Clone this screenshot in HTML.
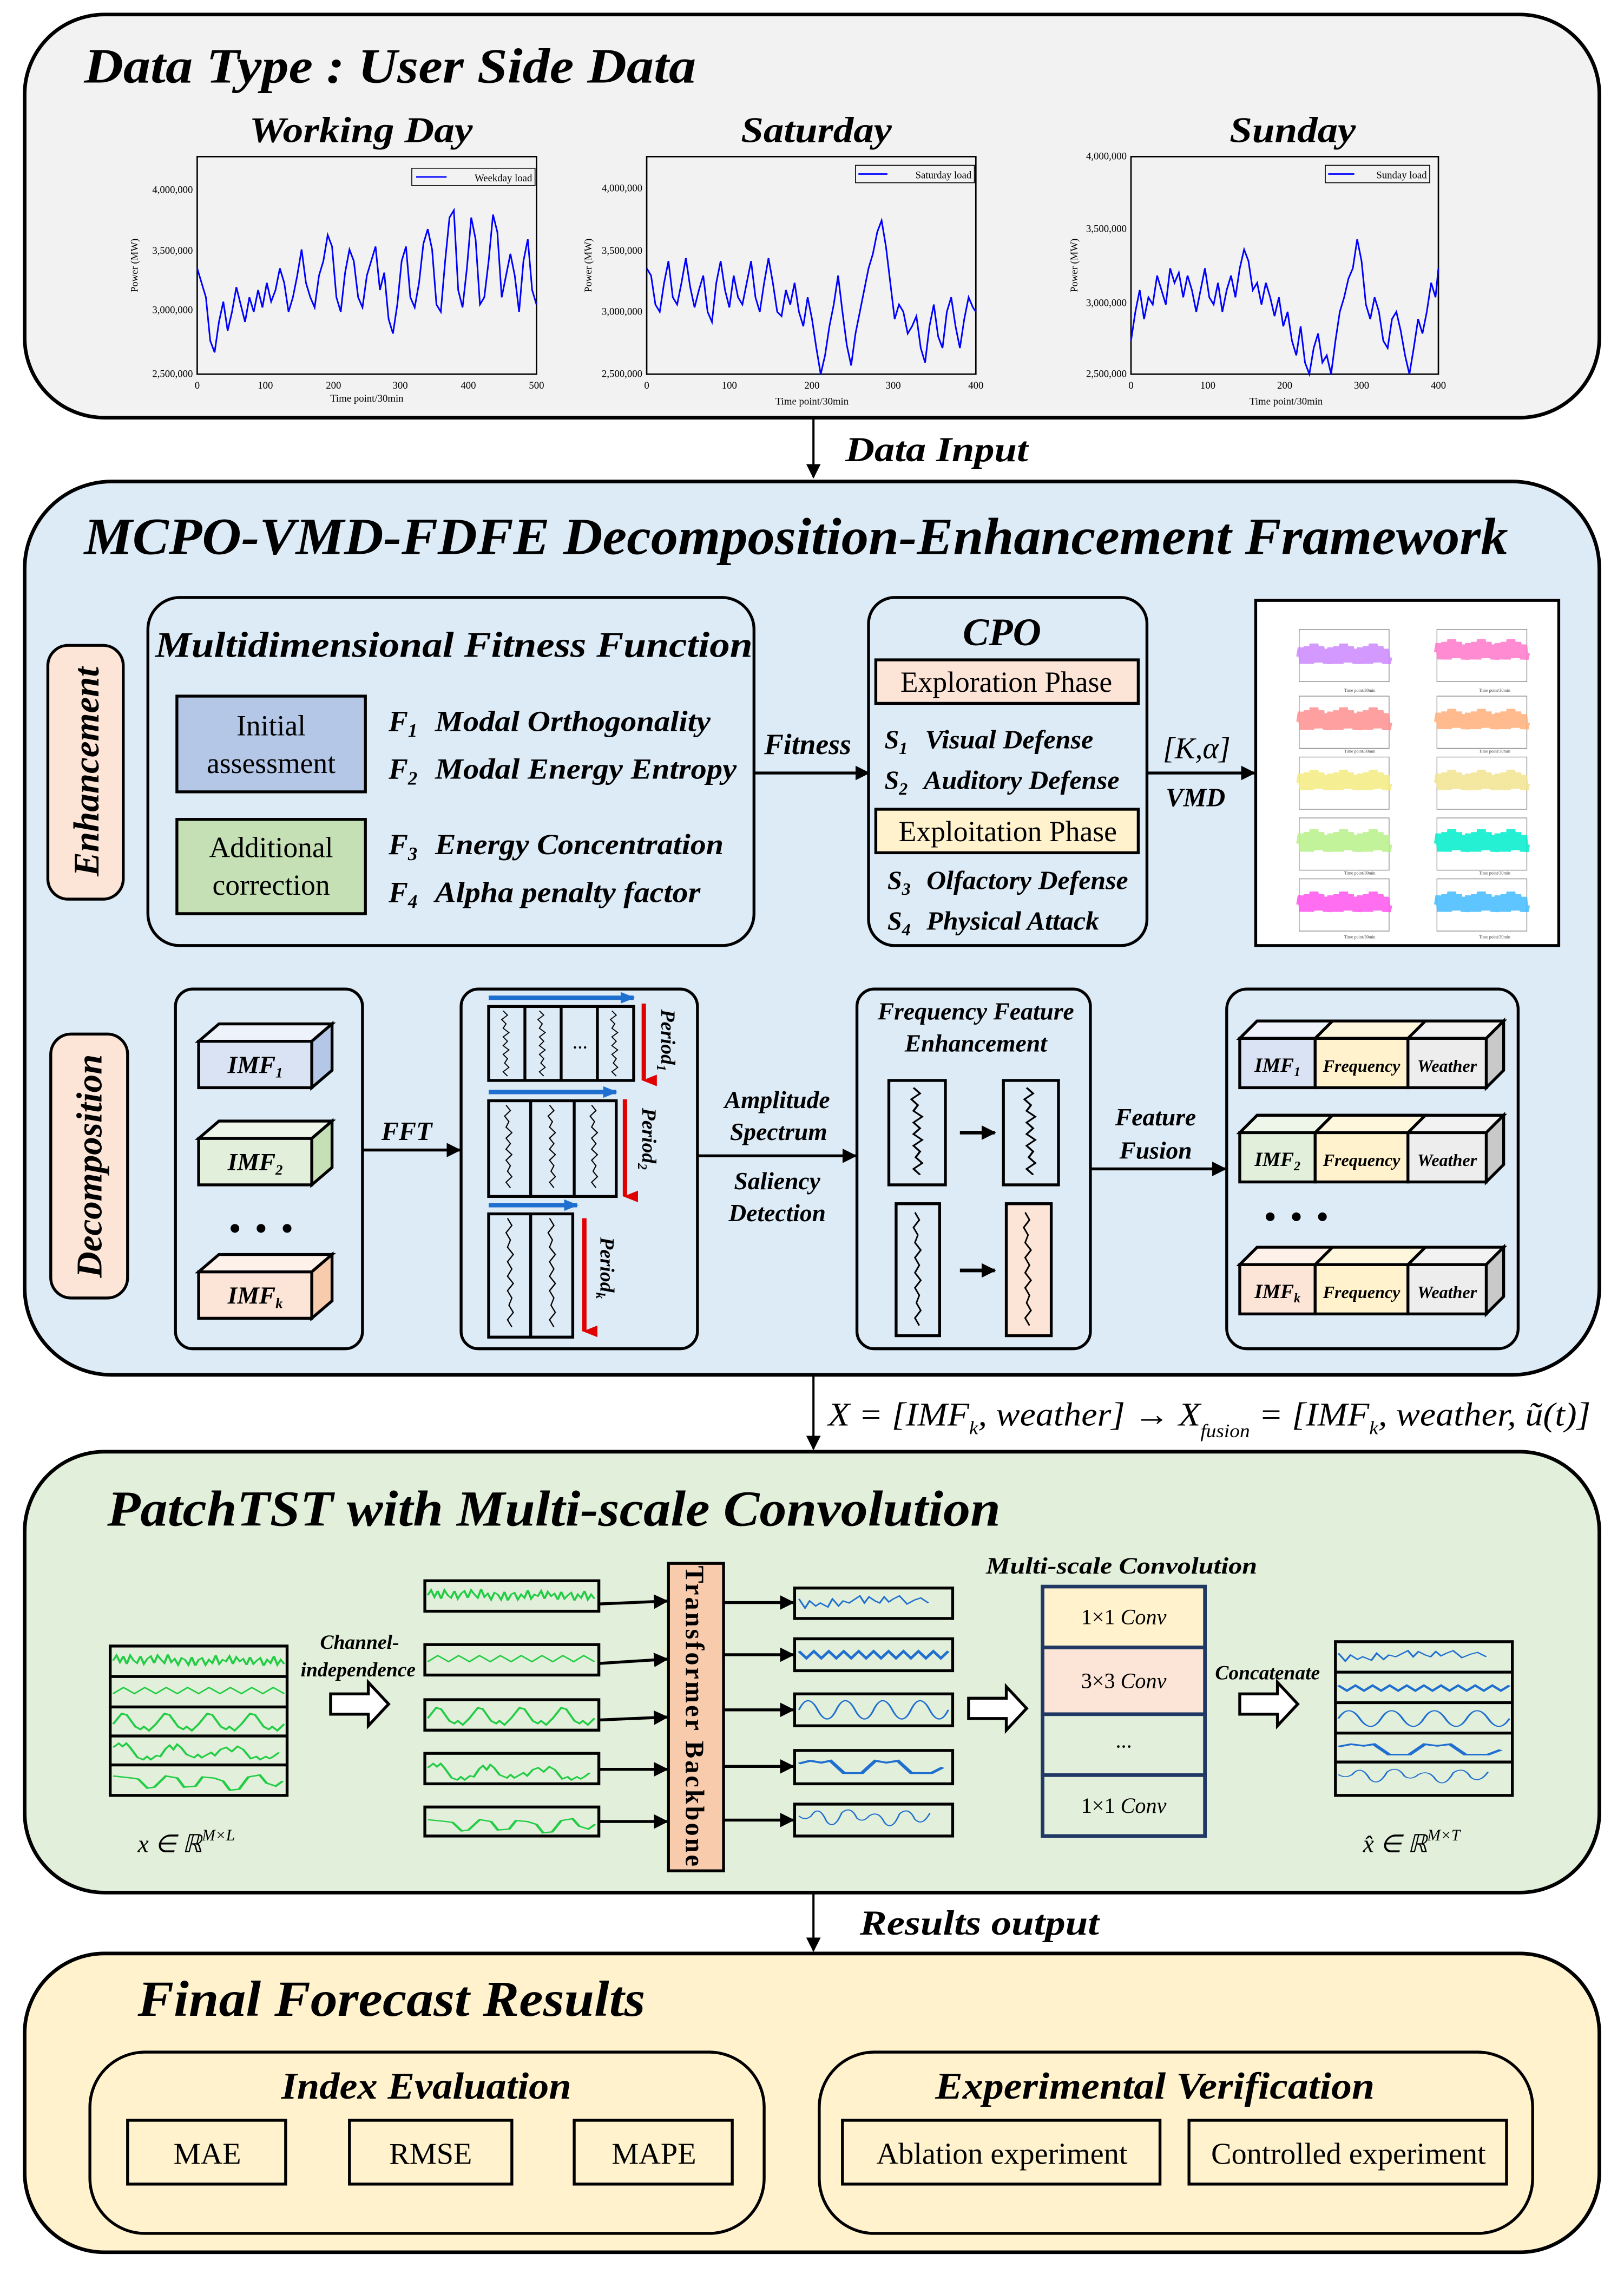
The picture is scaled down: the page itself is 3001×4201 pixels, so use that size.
<!DOCTYPE html>
<html><head><meta charset="utf-8"><style>
html,body{margin:0;padding:0;background:#fff;width:3001px;height:4201px;overflow:hidden}
svg{display:block}
text{font-family:"Liberation Serif",serif}
.bi{font-weight:bold;font-style:italic}
.it{font-style:italic}
</style></head><body>
<svg width="3001" height="4201" viewBox="0 0 1120 1568" preserveAspectRatio="none" xmlns="http://www.w3.org/2000/svg">
<defs>
<marker id="ah" markerWidth="10" markerHeight="10" refX="9" refY="5" orient="auto" markerUnits="userSpaceOnUse"><path d="M0,0 L10,5 L0,10 z" fill="#000"/></marker>
<marker id="ahb" markerWidth="10" markerHeight="8" refX="9" refY="4" orient="auto" markerUnits="userSpaceOnUse"><path d="M0,0 L10,4 L0,8 z" fill="#1f6fd0"/></marker>
<marker id="ahr" markerWidth="8" markerHeight="10" refX="4" refY="9" orient="auto-start-reverse" markerUnits="userSpaceOnUse"><path d="M0,0 L8,0 L4,10 z" fill="#e00000"/></marker>
<path id="nz" d="M0,0 l1,-7 1,12 1,-9 1,6 1,-10 1,13 1,-8 1,4 1,-11 1,9 1,-3 1,8 1,-12 1,10 1,-6 1,7 1,-9 1,11 1,-5 1,0 1,-7 1,12 1,-9 1,6 1,-10 1,13 1,-8 1,4 1,-11 1,9 1,-3 1,8 1,-12 1,10 1,-6 1,7 1,-9 1,11 1,-5 1,0 1,-7 1,12 1,-9 1,6 1,-10 1,13 1,-8 1,4 1,-11 1,9 1,-3 1,8 1,-12 1,10 1,-6 1,7 1,-9 1,11 1,-5 1,0"/>
<path id="w1" d="M0,0 l2,-6 2,8 2,-7 2,9 2,-10 2,6 2,3 2,-8 2,9 2,-6 2,-3 2,8 2,-9 2,5 2,4 2,-10 2,9 2,-4 2,7 2,-8 2,2 2,6 2,-9 2,10 2,-7 2,-2 2,8 2,-6 2,4 2,-9 2,10 2,-5 2,2 2,-6 2,9 2,-8 2,5 2,-3 2,7 2,-9 2,8 2,-4 2,-3 2,9 2,-7 2,4 2,-8 2,10 2,-6 2,5"/>
<path id="w2" d="M0,3 l6,-7 1,1 5.5,6 6,-7 1,1 5.5,6 6,-7 1,1 5.5,6 6,-7 1,1 5.5,6 6,-7 1,1 5.5,6 6,-7 1,1 5.5,6 6,-7 1,1 5.5,6 6,-7 1,1 5.5,6"/>
<path id="w3" d="M0,2 l5,-8 3,1 5,9 3,2 2,-2 3,3 4,-5 5,-8 3,1 5,9 3,2 2,-2 3,3 4,-5 5,-8 3,1 5,9 3,2 2,-2 3,3 4,-5 5,-8 3,1 5,9 3,2 2,-2 3,3 4,-5"/>
<path id="w4" d="M0,-3 l3,-4 2,3 2,-3 2,4 4,10 3,2 2,-3 2,3 3,-4 2,1 3,-8 2,-3 2,4 2,-5 2,3 3,7 4,3 2,-3 2,3 2,-2 3,-3 2,3 3,-6 3,-2 3,4 3,-5 3,3 4,9 3,-2 2,3 3,-3 2,2 2,-2 3,-4"/>
<path id="w5" d="M0,-2 l8,2 3,1 4,9 3,-1 5,-11 5,2 3,9 5,-1 3,-9 5,1 4,3 3,9 4,-1 4,-12 5,-2 3,8 4,3 3,-5"/>
<path id="b1" d="M0,-5 l4,9 3,-7 4,5 3,-3 5,4 3,-8 4,7 3,-5 4,2 3,-3 4,-4 3,7 3,-6 4,4 3,2 3,-6 3,5 3,-3 4,-3 5,8 5,-4 4,-2 5,5"/>
<path id="b2" d="M0,-3 l5,6 5,-6 5,6 5,-6 5,6 5,-6 5,6 5,-6 5,6 5,-6 5,6 5,-6 5,6 5,-6 5,6 5,-6 5,6 5,-6 5,6 5,-6"/>
<path id="b3" d="M0,0 q6,-18 12.5,0 t12.5,0 t12.5,0 t12.5,0 t12.5,0 t12.5,0 t12.5,0 t12.5,0"/>
<path id="b4" d="M0,-3 l5,-3 5,2 4,-2 6,13 5,0 3,0 6,-13 5,2 5,-2 6,13 5,0 4,0 5,-6"/>
<path id="b5" d="M0,-4 q4,5 8,0 q5,-12 10,5 q5,10 10,-8 q6,-8 10,5 q4,5 8,-2 q6,-6 10,6 q5,10 10,-8 q6,-8 10,5 q5,8 10,-6"/>
<path id="vz" d="M0,0 l3,4 -4,4 3,4 -2,4 4,4 -4,4 3,4 -3,4 4,4 -4,4 3,4 -2,4 3,4 -4,4 3,4"/>
</defs>

<!-- Panel 1 -->
<rect x="17" y="10" width="1086" height="278" rx="55" fill="#f2f2f2" stroke="#000" stroke-width="2.5"/>
<text x="58" y="57" font-size="34" class="bi" textLength="422" lengthAdjust="spacingAndGlyphs">Data Type : User Side Data</text>
<text x="172" y="98" font-size="25" class="bi" textLength="154" lengthAdjust="spacingAndGlyphs">Working Day</text>
<text x="511" y="98" font-size="25" class="bi" textLength="104" lengthAdjust="spacingAndGlyphs">Saturday</text>
<text x="848" y="98" font-size="25" class="bi" textLength="87" lengthAdjust="spacingAndGlyphs">Sunday</text>

<!-- chart 1 -->
<g font-size="7" text-anchor="end">
<rect x="136" y="108" width="234" height="150" fill="none" stroke="#000" stroke-width="1"/>
<text x="133" y="133">4,000,000</text><text x="133" y="175">3,500,000</text><text x="133" y="216">3,000,000</text><text x="133" y="260">2,500,000</text>
<text x="95" y="183" transform="rotate(-90 95 183)" text-anchor="middle">Power (MW)</text>
<text x="136" y="268" text-anchor="middle">0</text><text x="183" y="268" text-anchor="middle">100</text><text x="230" y="268" text-anchor="middle">200</text><text x="276" y="268" text-anchor="middle">300</text><text x="323" y="268" text-anchor="middle">400</text><text x="370" y="268" text-anchor="middle">500</text>
<text x="253" y="277" text-anchor="middle">Time point/30min</text>
<rect x="284" y="116" width="85" height="12" fill="none" stroke="#000" stroke-width="0.6"/><line x1="287" y1="122" x2="308" y2="122" stroke="#00f"/><text x="367" y="125">Weekday load</text>
<polyline fill="none" stroke="#0000ff" stroke-width="1.1" points="136,185 139,195 142,205 145,235 148,243 151,222 154,208 157,228 160,215 163,198 166,210 169,222 172,205 175,215 178,200 181,212 184,195 187,208 190,200 193,185 196,195 199,215 202,205 205,190 208,172 211,195 214,205 217,212 220,190 223,180 226,162 229,170 232,205 235,215 238,188 241,172 244,180 247,205 250,212 253,190 256,180 259,170 262,200 265,188 268,220 271,230 274,210 277,180 280,170 283,205 286,212 289,195 292,168 295,158 298,172 301,210 304,215 307,180 310,150 313,145 316,200 319,212 322,185 325,150 328,165 331,210 334,205 337,180 340,148 343,160 346,205 349,190 352,175 355,190 358,215 361,180 364,165 367,200 370,210"/>
</g>
<!-- chart 2 -->
<g font-size="7" text-anchor="end">
<rect x="446" y="108" width="227" height="150" fill="none" stroke="#000" stroke-width="1"/>
<text x="443" y="132">4,000,000</text><text x="443" y="175">3,500,000</text><text x="443" y="217">3,000,000</text><text x="443" y="260">2,500,000</text>
<text x="408" y="183" transform="rotate(-90 408 183)" text-anchor="middle">Power (MW)</text>
<text x="446" y="268" text-anchor="middle">0</text><text x="503" y="268" text-anchor="middle">100</text><text x="560" y="268" text-anchor="middle">200</text><text x="616" y="268" text-anchor="middle">300</text><text x="673" y="268" text-anchor="middle">400</text>
<text x="560" y="279" text-anchor="middle">Time point/30min</text>
<rect x="590" y="114" width="82" height="12" fill="none" stroke="#000" stroke-width="0.6"/><line x1="592" y1="120" x2="612" y2="120" stroke="#00f"/><text x="670" y="123">Saturday load</text>
<polyline fill="none" stroke="#0000ff" stroke-width="1.1" points="446,185 449,190 452,210 455,215 458,195 461,180 464,205 467,210 470,195 473,178 476,198 479,212 482,200 485,190 488,215 491,222 494,195 497,180 500,200 503,212 506,190 509,205 512,210 515,195 518,180 521,205 524,215 527,195 530,178 533,195 536,215 539,218 542,200 545,210 548,195 551,215 554,225 557,205 560,220 563,240 566,258 569,245 572,225 575,210 578,190 581,215 584,238 587,252 590,230 593,215 596,200 599,185 602,175 605,160 608,152 611,170 614,195 617,220 620,210 623,215 626,230 629,225 632,218 635,240 638,250 641,225 644,210 647,232 650,240 653,215 656,205 659,225 662,240 665,220 668,205 671,212 673,215"/>
</g>
<!-- chart 3 -->
<g font-size="7" text-anchor="end">
<rect x="780" y="108" width="212" height="150" fill="none" stroke="#000" stroke-width="1"/>
<text x="777" y="110">4,000,000</text><text x="777" y="160">3,500,000</text><text x="777" y="211">3,000,000</text><text x="777" y="260">2,500,000</text>
<text x="743" y="183" transform="rotate(-90 743 183)" text-anchor="middle">Power (MW)</text>
<text x="780" y="268" text-anchor="middle">0</text><text x="833" y="268" text-anchor="middle">100</text><text x="886" y="268" text-anchor="middle">200</text><text x="939" y="268" text-anchor="middle">300</text><text x="992" y="268" text-anchor="middle">400</text>
<text x="887" y="279" text-anchor="middle">Time point/30min</text>
<rect x="914" y="114" width="72" height="12" fill="none" stroke="#000" stroke-width="0.6"/><line x1="916" y1="120" x2="934" y2="120" stroke="#00f"/><text x="984" y="123">Sunday load</text>
<polyline fill="none" stroke="#0000ff" stroke-width="1.1" points="780,235 783,215 786,200 789,220 792,205 795,210 798,190 801,200 804,210 807,185 810,195 813,188 816,205 819,190 822,200 825,215 828,200 831,185 834,205 837,210 840,195 843,215 846,200 849,190 852,205 855,185 858,172 861,180 864,200 867,195 870,210 873,195 876,205 879,218 882,205 885,225 888,215 891,235 894,245 897,225 900,250 903,258 906,240 909,230 912,250 915,245 918,258 921,235 924,215 927,205 930,192 933,185 936,165 939,180 942,210 945,220 948,205 951,215 954,235 957,240 960,220 963,215 966,228 969,245 972,258 975,240 978,220 981,230 984,215 987,195 990,205 992,185"/>
</g>

<!-- arrow 1 -->
<line x1="561" y1="288" x2="561" y2="329" stroke="#000" stroke-width="1.5" marker-end="url(#ah)"/>
<text x="583" y="318" font-size="24" class="bi" textLength="126" lengthAdjust="spacingAndGlyphs">Data Input</text>

<!-- Panel 2 -->
<rect x="17" y="332" width="1086" height="616" rx="60" fill="#ddebf7" stroke="#000" stroke-width="2.5"/>
<text x="58" y="382" font-size="36" class="bi" textLength="982" lengthAdjust="spacingAndGlyphs">MCPO-VMD-FDFE Decomposition-Enhancement Framework</text>

<rect x="33" y="445" width="52" height="175" rx="14" fill="#fce4d6" stroke="#000" stroke-width="2"/>
<text x="0" y="0" font-size="25" class="bi" text-anchor="middle" transform="translate(68,532) rotate(-90)">Enhancement</text>
<rect x="35" y="713" width="53" height="182" rx="14" fill="#fce4d6" stroke="#000" stroke-width="2"/>
<text x="0" y="0" font-size="25" class="bi" text-anchor="middle" transform="translate(70,804) rotate(-90)">Decomposition</text>

<!-- MFF -->
<rect x="102" y="412" width="418" height="240" rx="22" fill="none" stroke="#000" stroke-width="2"/>
<text x="107" y="453" font-size="25" class="bi" textLength="412" lengthAdjust="spacingAndGlyphs">Multidimensional Fitness Function</text>
<rect x="122" y="480" width="130" height="66" fill="#b4c7e7" stroke="#000" stroke-width="2"/>
<text x="187" y="507" font-size="20" text-anchor="middle">Initial</text><text x="187" y="533" font-size="20" text-anchor="middle">assessment</text>
<rect x="122" y="565" width="130" height="65" fill="#c5e0b4" stroke="#000" stroke-width="2"/>
<text x="187" y="591" font-size="20" text-anchor="middle">Additional</text><text x="187" y="617" font-size="20" text-anchor="middle">correction</text>
<g font-size="20" class="bi">
<text x="268" y="504">F<tspan font-size="13" dy="4">1</tspan></text><text x="300" y="504" textLength="190" lengthAdjust="spacingAndGlyphs">Modal Orthogonality</text>
<text x="268" y="537">F<tspan font-size="13" dy="4">2</tspan></text><text x="300" y="537" textLength="208" lengthAdjust="spacingAndGlyphs">Modal Energy Entropy</text>
<text x="268" y="589">F<tspan font-size="13" dy="4">3</tspan></text><text x="300" y="589" textLength="199" lengthAdjust="spacingAndGlyphs">Energy Concentration</text>
<text x="268" y="622">F<tspan font-size="13" dy="4">4</tspan></text><text x="300" y="622" textLength="183" lengthAdjust="spacingAndGlyphs">Alpha penalty factor</text>
</g>
<line x1="520" y1="533" x2="599" y2="533" stroke="#000" stroke-width="2" marker-end="url(#ah)"/>
<text x="527" y="520" font-size="20" class="bi">Fitness</text>

<!-- CPO -->
<rect x="599" y="412" width="192" height="240" rx="18" fill="none" stroke="#000" stroke-width="2"/>
<text x="691" y="445" font-size="27" class="bi" text-anchor="middle">CPO</text>
<rect x="604" y="455" width="181" height="30" fill="#fce4d6" stroke="#000" stroke-width="2"/>
<text x="694" y="477" font-size="20" text-anchor="middle">Exploration Phase</text>
<rect x="604" y="558" width="181" height="30" fill="#fff2cc" stroke="#000" stroke-width="2"/>
<text x="695" y="580" font-size="20" text-anchor="middle">Exploitation Phase</text>
<g font-size="18" class="bi">
<text x="610" y="516">S<tspan font-size="12" dy="4">1</tspan></text><text x="638" y="516" textLength="116" lengthAdjust="spacingAndGlyphs">Visual Defense</text>
<text x="610" y="544">S<tspan font-size="12" dy="4">2</tspan></text><text x="637" y="544" textLength="135" lengthAdjust="spacingAndGlyphs">Auditory Defense</text>
<text x="612" y="613">S<tspan font-size="12" dy="4">3</tspan></text><text x="639" y="613" textLength="139" lengthAdjust="spacingAndGlyphs">Olfactory Defense</text>
<text x="612" y="641">S<tspan font-size="12" dy="4">4</tspan></text><text x="639" y="641" textLength="119" lengthAdjust="spacingAndGlyphs">Physical Attack</text>
</g>
<line x1="791" y1="533" x2="865" y2="533" stroke="#000" stroke-width="2" marker-end="url(#ah)"/>
<text x="802" y="523" font-size="21" class="it">[K,α]</text>
<text x="804" y="556" font-size="18" class="bi">VMD</text>

<!-- IMF image -->
<rect x="866" y="414" width="209" height="238" fill="#fff" stroke="#000" stroke-width="2"/>
<g stroke-width="0.5" fill="none">
<g stroke="#888"><rect x="896" y="434" width="62" height="36"/><rect x="991" y="434" width="62" height="36"/><rect x="896" y="480" width="62" height="36"/><rect x="991" y="480" width="62" height="36"/><rect x="896" y="522" width="62" height="36"/><rect x="991" y="522" width="62" height="36"/><rect x="896" y="564" width="62" height="36"/><rect x="991" y="564" width="62" height="36"/><rect x="896" y="606" width="62" height="36"/><rect x="991" y="606" width="62" height="36"/></g>
</g>
<g fill="none" stroke-width="6" opacity="0.85" stroke-linejoin="miter">
<use href="#nz" stroke="#cc88ff" transform="translate(897,453) scale(1.02,0.9)"/>
<use href="#nz" stroke="#ff77cc" transform="translate(992,450) scale(1.02,0.9)"/>
<use href="#nz" stroke="#ff9090" transform="translate(897,498) scale(1.02,1.0)"/>
<use href="#nz" stroke="#ffb07a" transform="translate(992,498) scale(1.02,0.9)"/>
<use href="#nz" stroke="#f5ec80" transform="translate(897,540) scale(1.02,0.9)"/>
<use href="#nz" stroke="#f3e390" transform="translate(992,540) scale(1.02,0.9)"/>
<use href="#nz" stroke="#b8f088" transform="translate(897,582) scale(1.02,1.0)"/>
<use href="#nz" stroke="#00eecc" transform="translate(992,582) scale(1.02,1.0)"/>
<use href="#nz" stroke="#ff55ee" transform="translate(897,624) scale(1.02,0.9)"/>
<use href="#nz" stroke="#44bbff" transform="translate(992,624) scale(1.02,0.9)"/>
</g>
<g font-size="3" fill="#444"><text x="927" y="477">Time point/30min</text><text x="1020" y="477">Time point/30min</text><text x="927" y="519">Time point/30min</text><text x="1020" y="519">Time point/30min</text><text x="927" y="603">Time point/30min</text><text x="1020" y="603">Time point/30min</text><text x="927" y="647">Time point/30min</text><text x="1020" y="647">Time point/30min</text></g>

<!-- Decomposition row -->
<rect x="121" y="682" width="129" height="248" rx="12" fill="none" stroke="#000" stroke-width="2"/>
<g stroke="#000" stroke-width="2">
<polygon points="137,718 151,706 229,706 215,718" fill="#eef2fb"/><polygon points="215,718 229,706 229,738 215,750" fill="#b4c7e7"/><rect x="137" y="718" width="78" height="32" fill="#dae3f3"/>
<polygon points="137,785 151,773 229,773 215,785" fill="#eef6ea"/><polygon points="215,785 229,773 229,805 215,817" fill="#c5e0b4"/><rect x="137" y="785" width="78" height="32" fill="#e2efda"/>
<polygon points="137,877 151,865 229,865 215,877" fill="#fdf1ea"/><polygon points="215,877 229,865 229,897 215,909" fill="#f8cbad"/><rect x="137" y="877" width="78" height="32" fill="#fce4d6"/>
</g>
<g font-size="17" class="bi" text-anchor="middle">
<text x="176" y="740">IMF<tspan font-size="10" dy="3">1</tspan></text>
<text x="176" y="807">IMF<tspan font-size="10" dy="3">2</tspan></text>
<text x="176" y="899">IMF<tspan font-size="10" dy="3">k</tspan></text>
</g>
<g fill="#000"><circle cx="162" cy="847" r="3"/><circle cx="180" cy="847" r="3"/><circle cx="198" cy="847" r="3"/></g>
<line x1="250" y1="793" x2="317" y2="793" stroke="#000" stroke-width="2" marker-end="url(#ah)"/>
<text x="263" y="786" font-size="18" class="bi">FFT</text>

<!-- Period box -->
<rect x="318" y="682" width="163" height="248" rx="12" fill="none" stroke="#000" stroke-width="2"/>
<g stroke="#000" stroke-width="2" fill="none">
<rect x="337" y="694" width="100" height="51"/><line x1="362" y1="694" x2="362" y2="745"/><line x1="387" y1="694" x2="387" y2="745"/><line x1="412" y1="694" x2="412" y2="745"/>
<rect x="337" y="759" width="88" height="66"/><line x1="366" y1="759" x2="366" y2="825"/><line x1="396" y1="759" x2="396" y2="825"/>
<rect x="337" y="837" width="58" height="85"/><line x1="366" y1="837" x2="366" y2="922"/>
</g>
<g stroke="#000" stroke-width="0.8" fill="none">
<use href="#vz" transform="translate(347,697) scale(1,0.75)"/><use href="#vz" transform="translate(372,697) scale(1,0.75)"/><use href="#vz" transform="translate(422,697) scale(1,0.75)"/>
<use href="#vz" transform="translate(349,762) scale(1,0.95)"/><use href="#vz" transform="translate(379,762) scale(1,0.95)"/><use href="#vz" transform="translate(408,762) scale(1,0.95)"/>
<use href="#vz" transform="translate(350,840) scale(1,1.25)"/><use href="#vz" transform="translate(379,840) scale(1,1.25)"/>
</g>
<text x="400" y="723" font-size="14" text-anchor="middle">...</text>
<g stroke-width="3">
<line x1="337" y1="688" x2="437" y2="688" stroke="#1f6fd0" marker-end="url(#ahb)"/>
<line x1="337" y1="753" x2="425" y2="753" stroke="#1f6fd0" marker-end="url(#ahb)"/>
<line x1="337" y1="831" x2="398" y2="831" stroke="#1f6fd0" marker-end="url(#ahb)"/>
<line x1="444" y1="692" x2="444" y2="745" stroke="#e00000" marker-end="url(#ahr)"/>
<line x1="431" y1="758" x2="431" y2="825" stroke="#e00000" marker-end="url(#ahr)"/>
<line x1="403" y1="840" x2="403" y2="918" stroke="#e00000" marker-end="url(#ahr)"/>
</g>
<g font-size="14" class="bi">
<text transform="translate(456,696) rotate(90)">Period<tspan font-size="9" dy="3">1</tspan></text>
<text transform="translate(443,764) rotate(90)">Period<tspan font-size="9" dy="3">2</tspan></text>
<text transform="translate(414,853) rotate(90)">Period<tspan font-size="9" dy="3">k</tspan></text>
</g>
<line x1="481" y1="797" x2="590" y2="797" stroke="#000" stroke-width="2" marker-end="url(#ah)"/>
<g font-size="17" class="bi" text-anchor="middle">
<text x="536" y="764">Amplitude</text><text x="537" y="786">Spectrum</text><text x="536" y="820">Saliency</text><text x="536" y="842">Detection</text>
</g>

<!-- FFE -->
<rect x="591" y="682" width="161" height="248" rx="12" fill="none" stroke="#000" stroke-width="2"/>
<g font-size="17" class="bi" text-anchor="middle"><text x="673" y="703">Frequency Feature</text><text x="673" y="725">Enhancement</text></g>
<g stroke="#000" stroke-width="2">
<rect x="613" y="745" width="39" height="72" fill="none"/><rect x="692" y="745" width="38" height="72" fill="none"/>
<rect x="618" y="830" width="30" height="91" fill="none"/><rect x="694" y="830" width="31" height="91" fill="#fce4d6"/>
</g>
<g stroke="#000" stroke-width="1" fill="none">
<use href="#vz" transform="translate(630,750) scale(1.5,1.0)"/><use href="#vz" transform="translate(708,750) scale(1.5,1.0)"/>
<use href="#vz" transform="translate(631,836) scale(1,1.3)"/><use href="#vz" transform="translate(707,836) scale(1,1.3)"/>
</g>
<line x1="662" y1="781" x2="686" y2="781" stroke="#000" stroke-width="2.5" marker-end="url(#ah)"/>
<line x1="662" y1="876" x2="686" y2="876" stroke="#000" stroke-width="2.5" marker-end="url(#ah)"/>
<line x1="752" y1="806" x2="845" y2="806" stroke="#000" stroke-width="2" marker-end="url(#ah)"/>
<g font-size="17" class="bi" text-anchor="middle"><text x="797" y="776">Feature</text><text x="797" y="799">Fusion</text></g>

<!-- Fused -->
<rect x="846" y="682" width="201" height="248" rx="14" fill="none" stroke="#000" stroke-width="2"/>
<g stroke="#000" stroke-width="2">
<g>
<polygon points="855,716 867,704 1037,704 1025,716" fill="#f2f2f2"/><polygon points="855,716 867,704 919,704 907,716" fill="#eef2fb"/><polygon points="907,716 919,704 983,704 971,716" fill="#fff7dd"/>
<polygon points="1025,716 1037,704 1037,738 1025,750" fill="#c9c9c9"/>
<rect x="855" y="716" width="52" height="34" fill="#dae3f3"/><rect x="907" y="716" width="64" height="34" fill="#fff2cc"/><rect x="971" y="716" width="54" height="34" fill="#ededed"/>
</g>
<g>
<polygon points="855,781 867,769 1037,769 1025,781" fill="#f2f2f2"/><polygon points="855,781 867,769 919,769 907,781" fill="#eef6ea"/><polygon points="907,781 919,769 983,769 971,781" fill="#fff7dd"/>
<polygon points="1025,781 1037,769 1037,803 1025,815" fill="#c9c9c9"/>
<rect x="855" y="781" width="52" height="34" fill="#e2efda"/><rect x="907" y="781" width="64" height="34" fill="#fff2cc"/><rect x="971" y="781" width="54" height="34" fill="#ededed"/>
</g>
<g>
<polygon points="855,872 867,860 1037,860 1025,872" fill="#f2f2f2"/><polygon points="855,872 867,860 919,860 907,872" fill="#fdf1ea"/><polygon points="907,872 919,860 983,860 971,872" fill="#fff7dd"/>
<polygon points="1025,872 1037,860 1037,894 1025,906" fill="#c9c9c9"/>
<rect x="855" y="872" width="52" height="34" fill="#fce4d6"/><rect x="907" y="872" width="64" height="34" fill="#fff2cc"/><rect x="971" y="872" width="54" height="34" fill="#ededed"/>
</g>
</g>
<g class="bi" text-anchor="middle">
<text x="881" y="739" font-size="14">IMF<tspan font-size="9" dy="3">1</tspan></text><text x="939" y="739" font-size="12">Frequency</text><text x="998" y="739" font-size="12">Weather</text>
<text x="881" y="804" font-size="14">IMF<tspan font-size="9" dy="3">2</tspan></text><text x="939" y="804" font-size="12">Frequency</text><text x="998" y="804" font-size="12">Weather</text>
<text x="881" y="895" font-size="14">IMF<tspan font-size="9" dy="3">k</tspan></text><text x="939" y="895" font-size="12">Frequency</text><text x="998" y="895" font-size="12">Weather</text>
</g>
<g fill="#000"><circle cx="876" cy="839" r="3"/><circle cx="894" cy="839" r="3"/><circle cx="912" cy="839" r="3"/></g>

<!-- arrow 2 -->
<line x1="561" y1="948" x2="561" y2="999" stroke="#000" stroke-width="1.5" marker-end="url(#ah)"/>
<text x="571" y="983" font-size="23" class="it" textLength="526" lengthAdjust="spacingAndGlyphs">X = [IMF<tspan font-size="13" dy="6">k</tspan><tspan dy="-6">, weather] → X</tspan><tspan font-size="13" dy="8">fusion</tspan><tspan dy="-8"> = [IMF</tspan><tspan font-size="13" dy="6">k</tspan><tspan dy="-6">, weather, ũ(t)]</tspan></text>

<!-- Panel 3 -->
<rect x="17" y="1001" width="1086" height="304" rx="55" fill="#e2efda" stroke="#000" stroke-width="2.5"/>
<text x="74" y="1052" font-size="35" class="bi" textLength="616" lengthAdjust="spacingAndGlyphs">PatchTST with Multi-scale Convolution</text>

<g stroke="#000" stroke-width="2" fill="none">
<rect x="76" y="1135" width="122" height="103"/>
<line x1="76" y1="1156" x2="198" y2="1156"/><line x1="76" y1="1177" x2="198" y2="1177"/><line x1="76" y1="1197" x2="198" y2="1197"/><line x1="76" y1="1217" x2="198" y2="1217"/>
</g>
<g stroke="#22cc44" stroke-width="1.3" fill="none">
<use href="#w1" transform="translate(78,1145) scale(1.18,0.6)"/>
<use href="#w2" transform="translate(78,1166) scale(1.18,0.6)"/>
<use href="#w3" transform="translate(78,1187) scale(1.18,0.9)"/>
<use href="#w4" transform="translate(78,1207) scale(1.3,0.7)"/>
<use href="#w5" transform="translate(78,1226) scale(1.58,0.7)"/>
</g>
<text x="95" y="1277" font-size="17" class="it">x ∈ ℝ<tspan font-size="11" dy="-8">M×L</tspan></text>
<g font-size="14" class="bi" text-anchor="middle"><text x="248" y="1137">Channel-</text><text x="247" y="1156">independence</text></g>
<polygon points="228,1168 254,1168 254,1160 268,1175 254,1190 254,1182 228,1182" fill="#fff" stroke="#000" stroke-width="2"/>

<g stroke="#000" stroke-width="2" fill="none">
<rect x="293" y="1090" width="120" height="21"/><rect x="293" y="1134" width="120" height="21"/><rect x="293" y="1172" width="120" height="21"/><rect x="293" y="1209" width="120" height="21"/><rect x="293" y="1246" width="120" height="20"/>
</g>
<g stroke="#22cc44" stroke-width="1.3" fill="none">
<use href="#w1" transform="translate(295,1100) scale(1.15,0.6)"/>
<use href="#w2" transform="translate(295,1144) scale(1.15,0.6)"/>
<use href="#w3" transform="translate(295,1183) scale(1.15,0.9)"/>
<use href="#w4" transform="translate(295,1221) scale(1.27,0.7)"/>
<use href="#w5" transform="translate(295,1256) scale(1.56,0.65)"/>
</g>
<g stroke="#000" stroke-width="2">
<line x1="413" y1="1106" x2="460" y2="1104" marker-end="url(#ah)"/>
<line x1="413" y1="1147" x2="460" y2="1144" marker-end="url(#ah)"/>
<line x1="413" y1="1186" x2="460" y2="1184" marker-end="url(#ah)"/>
<line x1="413" y1="1220" x2="460" y2="1220" marker-end="url(#ah)"/>
<line x1="413" y1="1256" x2="460" y2="1256" marker-end="url(#ah)"/>
</g>
<rect x="461" y="1078" width="38" height="212" fill="#f8cbad" stroke="#000" stroke-width="2"/>
<text transform="translate(473,1184) rotate(90)" font-size="18" font-weight="bold" text-anchor="middle" letter-spacing="1.5">Transformer Backbone</text>
<g stroke="#000" stroke-width="2">
<line x1="499" y1="1105" x2="547" y2="1105" marker-end="url(#ah)"/>
<line x1="499" y1="1141" x2="547" y2="1141" marker-end="url(#ah)"/>
<line x1="499" y1="1179" x2="547" y2="1179" marker-end="url(#ah)"/>
<line x1="499" y1="1218" x2="547" y2="1218" marker-end="url(#ah)"/>
<line x1="499" y1="1255" x2="547" y2="1255" marker-end="url(#ah)"/>
</g>
<g stroke="#000" stroke-width="2" fill="none">
<rect x="548" y="1095" width="109" height="21"/><rect x="548" y="1130" width="109" height="22"/><rect x="548" y="1168" width="109" height="22"/><rect x="548" y="1207" width="109" height="23"/><rect x="548" y="1244" width="109" height="22"/>
</g>
<g stroke="#1f6fd0" fill="none">
<use href="#b1" stroke-width="1.2" transform="translate(551,1106) scale(1.05,0.7)"/>
<use href="#b2" stroke-width="2" transform="translate(551,1141) scale(1.03,0.8)"/>
<use href="#b3" stroke-width="1.2" transform="translate(551,1179) scale(1.03,0.7)"/>
<use href="#b4" stroke-width="2" transform="translate(551,1218) scale(1.55,0.65)"/>
<use href="#b5" stroke-width="1" transform="translate(551,1255) scale(1.05,0.7)"/>
</g>
<polygon points="668,1171 694,1171 694,1163 708,1178 694,1193 694,1185 668,1185" fill="#fff" stroke="#000" stroke-width="2"/>
<text x="680" y="1085" font-size="16" class="bi" textLength="187" lengthAdjust="spacingAndGlyphs">Multi-scale Convolution</text>
<g stroke="#1f3864" stroke-width="2.5">
<rect x="719" y="1094" width="112" height="42" fill="#fff2cc"/>
<rect x="719" y="1136" width="112" height="46" fill="#fce4d6"/>
<rect x="719" y="1182" width="112" height="42" fill="#e2efda"/>
<rect x="719" y="1224" width="112" height="42" fill="#e2efda"/>
</g>
<g font-size="15" text-anchor="middle">
<text x="775" y="1120">1×1 <tspan font-style="italic">Conv</tspan></text>
<text x="775" y="1164">3×3 <tspan font-style="italic">Conv</tspan></text>
<text x="775" y="1205">...</text>
<text x="775" y="1250">1×1 <tspan font-style="italic">Conv</tspan></text>
</g>
<text x="838" y="1158" font-size="14" class="bi">Concatenate</text>
<polygon points="855,1168 881,1168 881,1160 895,1175 881,1190 881,1182 855,1182" fill="#fff" stroke="#000" stroke-width="2"/>
<g stroke="#000" stroke-width="2" fill="none">
<rect x="921" y="1132" width="122" height="106"/>
<line x1="921" y1="1153" x2="1043" y2="1153"/><line x1="921" y1="1174" x2="1043" y2="1174"/><line x1="921" y1="1195" x2="1043" y2="1195"/><line x1="921" y1="1215" x2="1043" y2="1215"/>
</g>
<g stroke="#1f6fd0" fill="none">
<use href="#b1" stroke-width="1.2" transform="translate(923,1143) scale(1.2,0.6)"/>
<use href="#b2" stroke-width="2" transform="translate(923,1164) scale(1.18,0.6)"/>
<use href="#b3" stroke-width="1.2" transform="translate(923,1185) scale(1.18,0.6)"/>
<use href="#b4" stroke-width="2" transform="translate(923,1206) scale(1.75,0.55)"/>
<use href="#b5" stroke-width="1" transform="translate(923,1226) scale(1.2,0.6)"/>
</g>
<text x="940" y="1277" font-size="17" class="it">x̂ ∈ ℝ<tspan font-size="11" dy="-8">M×T</tspan></text>

<!-- arrow 3 -->
<line x1="561" y1="1305" x2="561" y2="1345" stroke="#000" stroke-width="1.5" marker-end="url(#ah)"/>
<text x="593" y="1334" font-size="24" class="bi" textLength="165" lengthAdjust="spacingAndGlyphs">Results output</text>

<!-- Panel 4 -->
<rect x="17" y="1347" width="1086" height="206" rx="55" fill="#fff2cc" stroke="#000" stroke-width="2.5"/>
<text x="95" y="1390" font-size="35" class="bi" textLength="350" lengthAdjust="spacingAndGlyphs">Final Forecast Results</text>
<rect x="62" y="1415" width="465" height="125" rx="38" fill="none" stroke="#000" stroke-width="2"/>
<rect x="565" y="1415" width="492" height="125" rx="38" fill="none" stroke="#000" stroke-width="2"/>
<text x="194" y="1447" font-size="26" class="bi" textLength="200" lengthAdjust="spacingAndGlyphs">Index Evaluation</text>
<text x="645" y="1447" font-size="26" class="bi" textLength="303" lengthAdjust="spacingAndGlyphs">Experimental Verification</text>
<g fill="none" stroke="#000" stroke-width="2">
<rect x="88" y="1462" width="109" height="44"/><rect x="241" y="1462" width="112" height="44"/><rect x="396" y="1462" width="109" height="44"/>
<rect x="581" y="1462" width="219" height="44"/><rect x="820" y="1462" width="219" height="44"/>
</g>
<g font-size="21" text-anchor="middle">
<text x="143" y="1492">MAE</text><text x="297" y="1492">RMSE</text><text x="451" y="1492">MAPE</text>
<text x="691" y="1492">Ablation experiment</text><text x="930" y="1492">Controlled experiment</text>
</g>
</svg>
</body></html>
